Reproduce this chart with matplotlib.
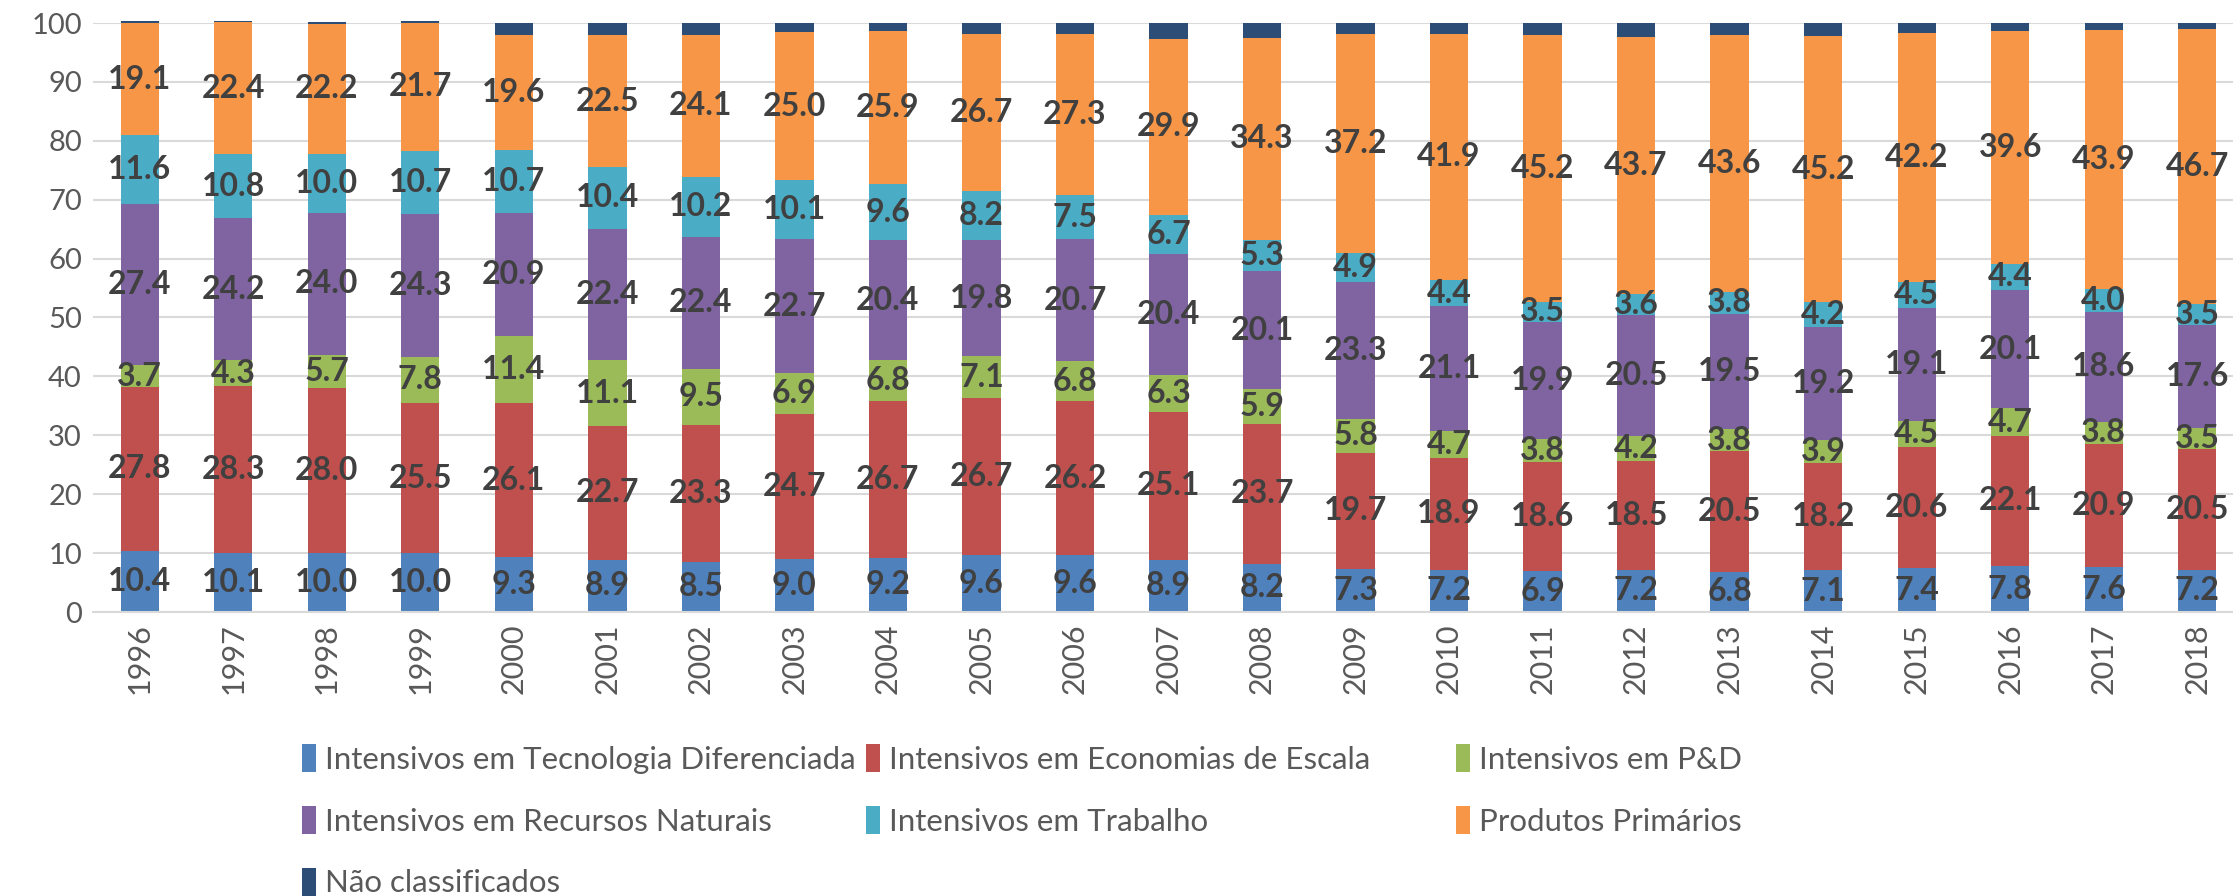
import matplotlib
matplotlib.use("Agg")
import matplotlib.pyplot as plt
import numpy as np

plt.rcParams['font.family'] = ['Lato', 'DejaVu Sans']

years = [str(y) for y in range(1996, 2019)]

tecnologia = [10.4, 10.1, 10.0, 10.0, 9.3, 8.9, 8.5, 9.0, 9.2, 9.6, 9.6, 8.9, 8.2,
              7.3, 7.2, 6.9, 7.2, 6.8, 7.1, 7.4, 7.8, 7.6, 7.2]
escala = [27.8, 28.3, 28.0, 25.5, 26.1, 22.7, 23.3, 24.7, 26.7, 26.7, 26.2, 25.1, 23.7,
          19.7, 18.9, 18.6, 18.5, 20.5, 18.2, 20.6, 22.1, 20.9, 20.5]
pd_ = [3.7, 4.3, 5.7, 7.8, 11.4, 11.1, 9.5, 6.9, 6.8, 7.1, 6.8, 6.3, 5.9,
       5.8, 4.7, 3.8, 4.2, 3.8, 3.9, 4.5, 4.7, 3.8, 3.5]
recursos = [27.4, 24.2, 24.0, 24.3, 20.9, 22.4, 22.4, 22.7, 20.4, 19.8, 20.7, 20.4, 20.1,
            23.3, 21.1, 19.9, 20.5, 19.5, 19.2, 19.1, 20.1, 18.6, 17.6]
trabalho = [11.6, 10.8, 10.0, 10.7, 10.7, 10.4, 10.2, 10.1, 9.6, 8.2, 7.5, 6.7, 5.3,
            4.9, 4.4, 3.5, 3.6, 3.8, 4.2, 4.5, 4.4, 4.0, 3.5]
primarios = [19.1, 22.4, 22.2, 21.7, 19.6, 22.5, 24.1, 25.0, 25.9, 26.7, 27.3, 29.9, 34.3,
             37.2, 41.9, 45.2, 43.7, 43.6, 45.2, 42.2, 39.6, 43.9, 46.7]
nao_class = [0.3, 0.3, 0.3, 0.3, 2.0, 2.0, 2.0, 1.6, 1.4, 1.9, 1.9, 2.7, 2.5,
             1.8, 1.8, 2.1, 2.3, 2.0, 2.2, 1.7, 1.3, 1.2, 1.0]

series = [
    ("Intensivos em Tecnologia Diferenciada", tecnologia, "#4F81BD", True),
    ("Intensivos em Economias de Escala", escala, "#C0504D", True),
    ("Intensivos em P&D", pd_, "#9BBB59", True),
    ("Intensivos em Recursos Naturais", recursos, "#8064A2", True),
    ("Intensivos em Trabalho", trabalho, "#4BACC6", True),
    ("Produtos Primários", primarios, "#F79646", True),
    ("Não classificados", nao_class, "#2C4D75", False),
]

fig = plt.figure(figsize=(22.33, 8.96), dpi=100)
ax = fig.add_axes([93 / 2233, 1 - 612 / 896, (2244 - 93) / 2233, (612 - 23) / 896])

x = np.arange(len(years))
bottom = np.zeros(len(years))
handles = {}
for name, vals, color, show in series:
    vals = np.array(vals)
    b = ax.bar(x, vals, 0.41, bottom=bottom, color=color, label=name, zorder=2,
               clip_on=False)
    handles[name] = b
    if show:
        for xi, v, bo in zip(x, vals, bottom):
            ax.text(xi, bo + v / 2, f"{v:.1f}", ha='center', va='center',
                    fontsize=23, fontweight='bold', color='#404040', zorder=3)
    bottom += vals

ax.set_xlim(-0.5, len(years) - 0.5)
ax.set_ylim(0, 100)
ax.set_yticks(range(0, 101, 10))
ax.yaxis.grid(True, color='#D9D9D9', lw=1.5, zorder=0)
ax.set_axisbelow(True)
for s in ['top', 'right', 'left']:
    ax.spines[s].set_visible(False)
ax.spines['bottom'].set_color('#D9D9D9')
ax.spines['bottom'].set_linewidth(1.5)
ax.set_xticks(x)
ax.set_xticklabels(years, rotation=90)
ax.tick_params(axis='y', length=0, labelsize=21, colors='#595959', pad=8)
ax.tick_params(axis='x', length=0, labelsize=22, colors='#595959', pad=8)

# Excel-style legend: three equal-width columns, filled row by row
columns = [
    ["Intensivos em Tecnologia Diferenciada", "Intensivos em Recursos Naturais",
     "Não classificados"],
    ["Intensivos em Economias de Escala", "Intensivos em Trabalho"],
    ["Intensivos em P&D", "Produtos Primários"],
]
col_x = [302, 866, 1456]
for names, cx in zip(columns, col_x):
    leg = fig.legend([handles[n] for n in names], names, loc='upper left',
                     bbox_to_anchor=(cx / 2233, 1 - 744 / 896),
                     frameon=False, fontsize=22.5, handlelength=0.45,
                     handleheight=1.0, handletextpad=0.3, labelspacing=1.03,
                     borderaxespad=0, borderpad=0)
    for t in leg.get_texts():
        t.set_color('#595959')

fig.savefig("out.png", dpi=100)
